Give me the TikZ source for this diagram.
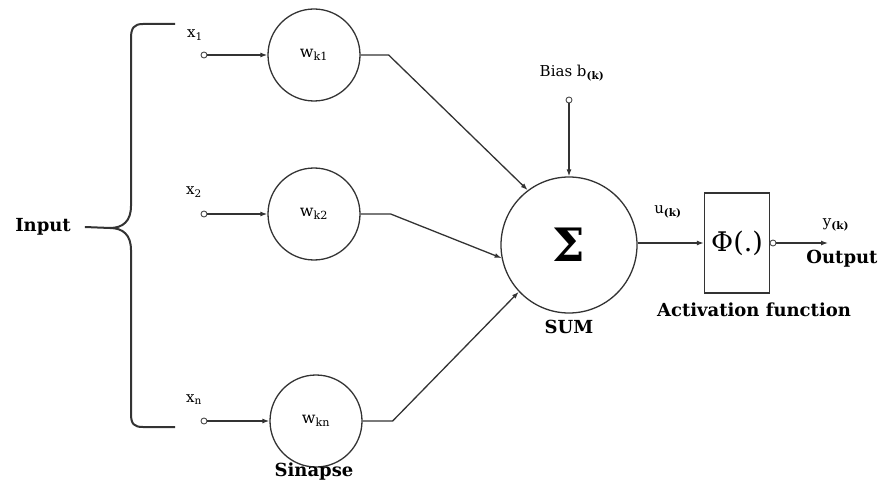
\documentclass[tikz,border=0pt]{standalone}
\usepackage{fontspec}
\setmainfont{DejaVu Serif}
\usetikzlibrary{arrows.meta}
\begin{document}
\begin{tikzpicture}[x=1pt,y=-1pt,
  ln/.style={line width=1.3pt, draw=black!80},
  neuron/.style={circle, ln, minimum size=92pt, inner sep=0pt, font=\fontsize{16}{18}\selectfont},
  term/.style={circle, draw=black!70, line width=0.9pt, fill=white, minimum size=6pt, inner sep=0pt},
  arr/.style={ln, -{Latex[length=7pt,width=5pt]}},
  small/.style={font=\fontsize{15}{17}\selectfont, inner sep=0pt},
  big/.style={font=\bfseries\fontsize{18}{20}\selectfont, inner sep=0pt},
  bracepath/.style={line width=2pt, draw=black!80}]
\useasboundingbox (0,0) rectangle (882,486);

% Input and brace
\node[big] (inp) at (43,227) {Input};
\coordinate (cusp) at (110,228);
\draw[bracepath] (175,24) -- (143,24) .. controls (134,24) and (131,28) .. (131,38)
  -- (131,206) .. controls (131,221) and (123,228) .. (cusp)
  .. controls (123,228) and (131,235) .. (131,250)
  -- (131,414) .. controls (131,424) and (134,427) .. (143,427) -- (175,427);
\draw[bracepath] ([xshift=14pt]inp.east) -- (cusp);

% inputs
\node[small] (x1) at (195,35) {x\textsubscript{1}};
\node[small] (x2) at (194,192) {x\textsubscript{2}};
\node[small] (xn) at (194,400) {x\textsubscript{n}};
\node[term] (t1) at (204,55) {};
\node[term] (t2) at (204,214) {};
\node[term] (tn) at (204,421) {};

% synapse weights
\node[neuron] (w1) at (314,55) {w\textsubscript{k1}};
\node[neuron] (w2) at (314,214) {w\textsubscript{k2}};
\node[neuron] (wn) at (316,421) {w\textsubscript{kn}};
\node[big] (sin) at (314,472) {Sinapse};

\draw[arr] (t1) -- (w1);
\draw[arr] (t2) -- (w2);
\draw[arr] (tn) -- (wn);

% summation
\node[circle, ln, minimum size=136pt, inner sep=0pt, font=\bfseries\fontsize{46}{48}\selectfont] (sum) at (569,245) {Σ};
\node[big] (sumlbl) at (569,327) {SUM};

\draw[arr] (w1.east) -- ++(28,0) -- (sum.127);
\draw[arr] (w2.east) -- ++(30,0) -- (sum.191);
\draw[arr] (wn.east) -- ++(30,0) -- (sum.223);

% bias
\node[small] (bias) at (572,73) {Bias b\textsubscript{\bfseries(k)}};
\node[term] (bt) at (569,100) {};
\draw[arr] (bt) -- (sum.north);

% activation
\node[ln, rectangle, minimum width=65pt, minimum height=100pt, inner sep=0pt, font=\fontsize{27}{29}\selectfont] (act) at (737,243) {Φ(.)};
\node[big] (actlbl) at (754,310) {Activation function};
\node[small] (uk) at (668,212) {u\textsubscript{\bfseries(k)}};
\draw[arr] (sum.east |- act.west) -- (act.west);

\node[term] (ot) at (773,243) {};
\coordinate (oend) at (828,243);
\draw[arr] (ot) -- (oend);
\node[small] (yk) at (836,225) {y\textsubscript{\bfseries(k)}};
\node[big] (out) at (842,259) {Output};
\end{tikzpicture}
\end{document}
